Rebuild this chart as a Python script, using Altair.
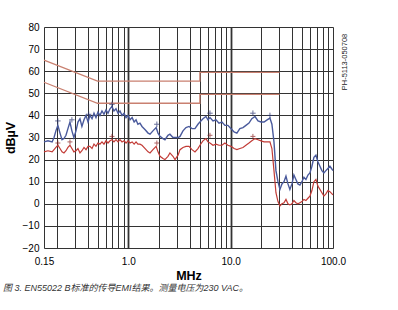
import altair as alt
import pandas as pd

# ---------------- data ----------------
freq_mhz = [
    0.150, 0.164, 0.180, 0.188, 0.196, 0.205, 0.215, 0.225, 0.235, 0.246,
    0.257, 0.269, 0.281, 0.294, 0.308, 0.322, 0.337, 0.352, 0.369, 0.386,
    0.404, 0.422, 0.442, 0.462, 0.483, 0.505, 0.528, 0.553, 0.578, 0.605,
    0.633, 0.662, 0.692, 0.724, 0.758, 0.793, 0.829, 0.868, 0.908, 0.950,
    0.993, 1.04, 1.09, 1.14, 1.19, 1.24, 1.30, 1.36, 1.46, 1.56,
    1.63, 1.74, 1.87, 1.95, 2.04, 2.18, 2.28, 2.44, 2.55, 2.73,
    2.86, 3.06, 3.20, 3.42, 3.66, 3.92, 4.19, 4.48, 4.79, 5.01,
    5.36, 5.73, 6.00, 6.28, 6.72, 7.19, 7.69, 8.22, 8.79, 9.40,
    10.1, 10.8, 11.5, 12.3, 13.2, 14.1, 15.1, 16.1, 17.3, 18.5,
    19.8, 21.2, 22.7, 24.2, 25.3, 26.5, 27.7, 29.0, 30.3, 31.7,
    33.2, 34.7, 36.3, 37.9, 39.7, 41.5, 43.4, 45.4, 47.5, 49.7,
    52.0, 54.4, 56.9, 59.5, 62.2, 65.1, 68.1, 71.2, 74.5, 77.9,
    81.5, 85.2, 89.2, 93.3, 100.0,
]
blue_dbuv = [
    28, 28.5, 28, 30, 33, 35.5, 32, 29, 29.5, 31,
    34, 37, 33, 30, 33, 37, 38.5, 35, 38, 40,
    37, 40, 38.5, 41, 39, 41.5, 40, 42, 40.5, 42.5,
    41, 43, 44, 42, 43, 41, 42, 40, 41, 39,
    40, 38, 39, 37, 38, 36, 36.5, 35, 33.5, 32,
    31.5, 33, 34.5, 32, 30.5, 29.5, 29, 31, 31.5, 30,
    30, 30, 30.5, 33, 34.5, 35, 34, 34, 36, 37,
    38.5, 39.5, 38, 39, 37.5, 38, 36.5, 37, 35.5, 35.5,
    34, 32.5, 32, 34, 34.5, 35.5, 36.5, 38.5, 39.5, 37.5,
    37, 37, 38, 38.8, 36, 28, 15, 10, 6.5, 9,
    10, 12.5, 9, 6.5, 9, 13, 11, 9, 8.5, 10,
    12, 11, 13, 14, 17, 21, 22, 19, 17, 15,
    14, 15, 16, 17, 15,
]
red_dbuv = [
    23.5, 24, 23.5, 24.5, 25.5, 26.5, 25, 23.5, 23, 24,
    25.5, 26.5, 25, 23.5, 24, 25, 23, 24, 25.5, 24.5,
    26, 26, 25, 27, 26, 27.5, 27, 28, 27, 28.5,
    27.5, 28.5, 29, 28, 29, 28, 29, 28, 28.5, 27.5,
    28.5, 27.5, 28, 27, 28, 27, 27, 26.5, 25, 23.5,
    23, 24.5, 26, 23.5, 21.5, 20.5, 20, 21.5, 23, 21.5,
    20, 22, 24.5, 25.5, 26, 26, 24.5, 23.5, 25, 26.5,
    28.5, 29.5, 28, 27.5, 26.5, 27, 26.5, 26.5, 27.5, 26.5,
    26, 25, 24.5, 25, 25.5, 26.5, 27.5, 28.5, 29.5, 29,
    28.5, 28, 28, 28, 25, 15, 5, 1, -1, 0,
    0.5, 2, 0, -0.5, 0, 1.5, 0.5, 0, 0.5, 1,
    2, 1.5, 2.5, 3.5, 6, 10, 11, 8, 6.5, 5,
    3.5, 4.5, 6, 5.5, 4,
]

qp_limit_f = [0.15, 0.5, 5, 5, 30]
qp_limit_v = [65, 55.5, 55.5, 59.5, 59.5]
av_limit_f = [0.15, 0.5, 5, 5, 30]
av_limit_v = [55, 45.5, 45.5, 49.5, 49.5]

qp_mark_f = [0.205, 0.281, 0.41, 0.692, 1.9, 6.28, 16.5, 24.2]
qp_mark_v = [37.5, 38, 40.5, 45, 36, 41, 41, 40]
av_mark_f = [0.205, 0.269, 0.692, 1.9, 6.28, 16.5]
av_mark_v = [27.5, 28, 30.5, 27.5, 31, 30.5]

x_grid = [0.15, 0.2, 0.3, 0.4, 0.5, 0.6, 0.7, 0.8, 0.9,
          1, 2, 3, 4, 5, 6, 7, 8, 9,
          10, 20, 30, 40, 50, 60, 70, 80, 90, 100]
x_labels = {0.15: "0.15", 1: "1.0", 10: "10.0", 100: "100.0"}
y_ticks = list(range(-20, 81, 10))

x_title = "MHz"
y_title = "dBµV"
caption = "图 3. EN55022 B标准的传导EMI结果。测量电压为230 VAC。"
code_label = "PH-5113-050708"

# ---------------- chart ----------------
W, H = 289, 221
FONT = "Liberation Sans, Arial, Noto Sans CJK SC"
GRID = "#333333"

traces = pd.DataFrame({"f": freq_mhz, "blue": blue_dbuv, "red": red_dbuv})
limits = pd.DataFrame({
    "f": qp_limit_f + av_limit_f,
    "v": qp_limit_v + av_limit_v,
    "lim": ["qp"] * len(qp_limit_f) + ["av"] * len(av_limit_f),
    "i": list(range(len(qp_limit_f))) + list(range(len(av_limit_f))),
})
qp_marks = pd.DataFrame({"f": qp_mark_f, "v": qp_mark_v})
av_marks = pd.DataFrame({"f": av_mark_f, "v": av_mark_v})

label_expr = " : ".join(f"datum.value == {k} ? '{v}'" for k, v in x_labels.items()) + " : ''"

xscale = alt.Scale(type="log", domain=[0.15, 100], nice=False)
yscale = alt.Scale(domain=[-20, 80], nice=False, zero=False)

xaxis = alt.Axis(values=x_grid, labelExpr=label_expr, title=x_title, grid=True,
                 gridColor=GRID, gridOpacity=1,
                 ticks=False, domain=False, labelOverlap=False, labelFlush=False,
                 labelBound=False, labelPadding=8, titleFontWeight="bold",
                 titleFontSize=12.5, titleY=31, titleBaseline="alphabetic",
                 gridWidth={"condition": {"test": "datum.value == 1 || datum.value == 10",
                                          "value": 1.8}, "value": 1})
yaxis = alt.Axis(values=y_ticks, title=y_title, grid=True, gridColor=GRID, gridOpacity=1,
                 gridWidth=1, ticks=False, domain=False,
                 labelPadding=5, titleFontWeight="bold", titleFontSize=12.5,
                 titleX=-27, titleY=H / 2, titleBaseline="bottom")

lim_chart = alt.Chart(limits).mark_line(color="#c98070", strokeWidth=1.3).encode(
    x=alt.X("f:Q", scale=xscale, axis=xaxis),
    y=alt.Y("v:Q", scale=yscale, axis=yaxis),
    detail="lim:N",
    order="i:Q",
)

red_line = alt.Chart(traces).mark_line(color="#c23b36", strokeWidth=1.2).encode(
    x=alt.X("f:Q", scale=xscale, axis=xaxis), y=alt.Y("red:Q", scale=yscale, axis=yaxis))
blue_line = alt.Chart(traces).mark_line(color="#4a5a9c", strokeWidth=1.4).encode(
    x=alt.X("f:Q", scale=xscale, axis=xaxis), y=alt.Y("blue:Q", scale=yscale, axis=yaxis))

cross = "M-1,0L1,0M0,-1L0,1"
qp_pts = alt.Chart(qp_marks).mark_point(shape=cross, filled=False, size=30,
                                        color="#2a3470", strokeWidth=1).encode(
    x=alt.X("f:Q", scale=xscale, axis=xaxis), y=alt.Y("v:Q", scale=yscale, axis=yaxis))
av_pts = alt.Chart(av_marks).mark_point(shape=cross, filled=False, size=25,
                                        color="#8a2020", strokeWidth=1).encode(
    x=alt.X("f:Q", scale=xscale, axis=xaxis), y=alt.Y("v:Q", scale=yscale, axis=yaxis))

code_text = alt.Chart(pd.DataFrame({"t": [code_label]})).mark_text(
    angle=270, fontSize=7.5, font=FONT, color="#222", align="center", baseline="middle"
).encode(text="t:N", x=alt.value(W + 12), y=alt.value(35))

chart = alt.layer(lim_chart, red_line, blue_line, qp_pts, av_pts, code_text).properties(
    width=W, height=H,
    autosize=alt.AutoSizeParams(type="none"),
    padding={"left": 44, "top": 27, "right": 398 - 44 - W, "bottom": 310 - 27 - H},
    title=alt.TitleParams(text=caption, orient="bottom", anchor="start", frame="group",
                          dx=-41, offset=2, fontSize=9, fontStyle="italic",
                          fontWeight="normal", font=FONT, color="#333"),
).configure_view(stroke="black", strokeWidth=1.6).configure_axis(
    labelFont=FONT, labelFontSize=11.5, labelColor="black",
    titleFont=FONT, titleColor="black",
).configure(background="white")

chart.save("out.html", embed_options={"renderer": "svg", "actions": False})
